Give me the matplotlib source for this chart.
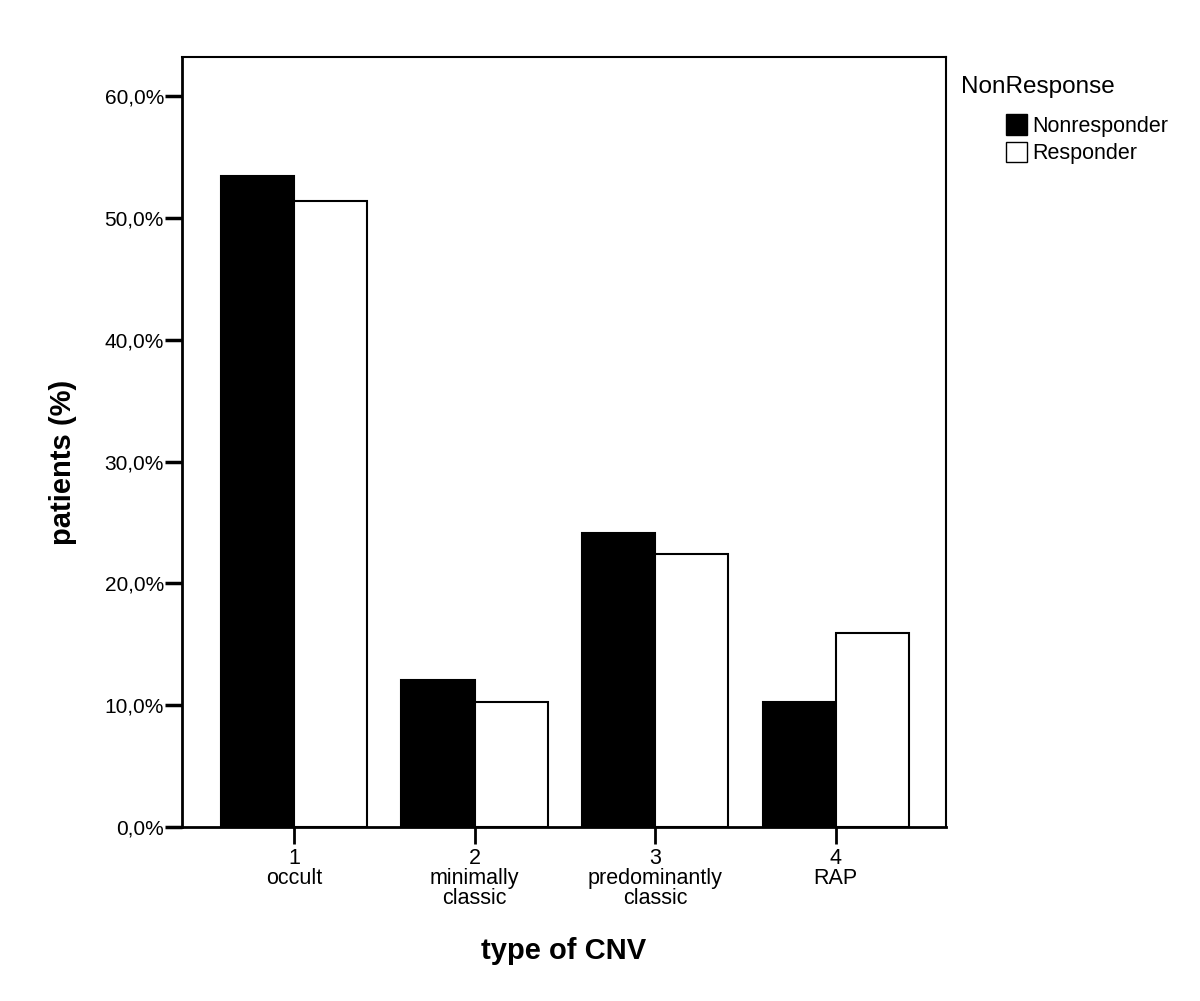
import numpy as np
import matplotlib.pyplot as plt
from matplotlib.patches import Patch
from matplotlib.ticker import FuncFormatter

plt.rcParams['font.family'] = ['Liberation Sans', 'DejaVu Sans']

categories = ["1\noccult", "2\nminimally\nclassic", "3\npredominantly\nclassic", "4\nRAP"]
nonresponder = [53.4, 12.1, 24.1, 10.3]
responder = [51.4, 10.3, 22.4, 15.9]
yticks = [0, 10, 20, 30, 40, 50, 60]

fig = plt.figure(figsize=(12, 10.01), dpi=100)
ax = fig.add_axes([0.1517, 0.1738, 0.6366, 0.7692])

x = np.arange(len(categories))
w = 0.405
ax.bar(x - w / 2, nonresponder, w, color='black', edgecolor='black', linewidth=1.5)
ax.bar(x + w / 2, responder, w, color='white', edgecolor='black', linewidth=1.5)

ax.set_xlim(-0.62, 3.61)
ax.set_ylim(0, 63.2)
ax.set_yticks(yticks)
ax.yaxis.set_major_formatter(FuncFormatter(lambda v, p: f"{v:.1f}%".replace('.', ',')))
ax.set_xticks(x)
ax.set_xticklabels(categories, fontsize=15.5, linespacing=0.95)
ax.tick_params(axis='y', labelsize=15, length=12, width=2.5, direction='out', pad=1)
ax.tick_params(axis='x', length=12, width=2, direction='out', pad=3)
for s in ax.spines.values():
    s.set_linewidth(1.5)
ax.spines['left'].set_linewidth(2)
ax.spines['bottom'].set_linewidth(2)

ax.set_xlabel("type of CNV", fontsize=21, fontweight='bold', labelpad=20)
ax.set_ylabel("patients (%)", fontsize=21, fontweight='bold')
ax.yaxis.set_label_coords(-0.137, 0.474)

fig.text(0.801, 0.913, "NonResponse", fontsize=17.5, ha='left', va='center')
handles = [Patch(facecolor='black', edgecolor='black', label='Nonresponder'),
           Patch(facecolor='white', edgecolor='black', label='Responder')]
fig.legend(handles=handles, loc='upper left', bbox_to_anchor=(0.838, 0.886),
           frameon=False, fontsize=15.5, handlelength=1.0, handleheight=1.1,
           handletextpad=0.25, labelspacing=0.22, borderpad=0, borderaxespad=0)

fig.savefig("out.png", dpi=100)
